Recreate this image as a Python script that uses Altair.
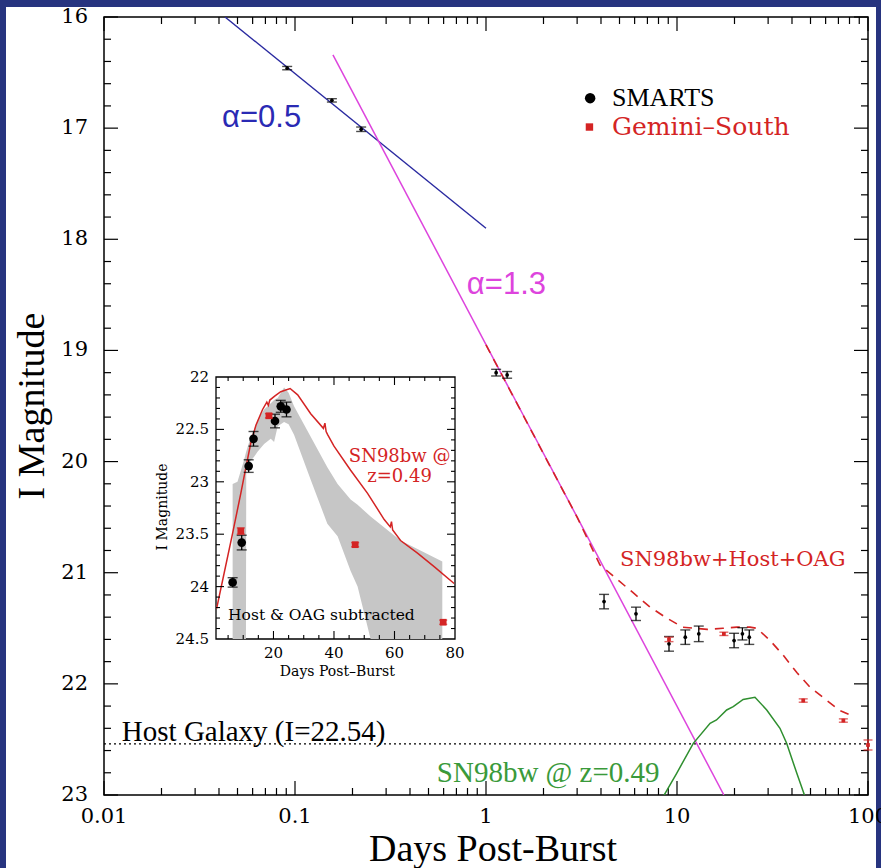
import altair as alt
import pandas as pd

# ---------------- data ----------------
# main panel: SMARTS (black) and Gemini-South (red) photometry
smarts_days = [0.091, 0.156, 0.222, 1.13, 1.29, 4.15, 6.1, 9.08, 11.05, 13.0, 19.9, 22.0, 23.9]
smarts_mag = [16.46, 16.75, 17.01, 19.20, 19.22, 21.26, 21.37, 21.64, 21.58, 21.55, 21.61, 21.55, 21.58]
smarts_err = [0.015, 0.015, 0.02, 0.03, 0.03, 0.065, 0.06, 0.066, 0.065, 0.07, 0.065, 0.055, 0.065]
gemini_days = [9.08, 17.6, 45.8, 74.3, 100.0]
gemini_mag = [21.60, 21.55, 22.15, 22.33, 22.55]
gemini_err = [0.02, 0.015, 0.015, 0.015, 0.045]

# power-law decays
a05_days = [0.043, 1.0]
a05_mag = [16.0, 17.9]
a13_days = [0.158, 17.6]
a13_mag = [16.34, 23.0]

# SN98bw + host + OAG model (dashed red)
model_days = [1.0, 2.0, 3.0, 3.95, 4.86, 5.89, 7.23, 8.87, 10.7, 14.4, 17.4, 20.6, 24.1,
              26.2, 30.7, 35.9, 42.5, 49.7, 61.0, 71.3, 80.5]
model_mag = [18.95, 19.93, 20.5, 20.93, 21.06, 21.18, 21.31, 21.41, 21.49, 21.51, 21.50, 21.49,
             21.49, 21.50, 21.61, 21.74, 21.90, 22.03, 22.15, 22.24, 22.28]

# SN98bw @ z=0.49 (green)
sn_days = [8.47, 9.96, 12.17, 14.9, 16.1, 18.2, 19.7, 22.2, 25.6, 29.5, 34.6, 37.5, 42.4, 46.8]
sn_mag = [23.015, 22.805, 22.535, 22.355, 22.325, 22.235, 22.205, 22.14, 22.12, 22.235,
          22.40, 22.535, 22.805, 23.015]

host_mag = 22.54

# inset: host & OAG subtracted
in_smarts_days = [6.5, 9.5, 11.8, 13.4, 20.5, 22.4, 24.3]
in_smarts_mag = [23.96, 23.58, 22.85, 22.59, 22.42, 22.28, 22.31]
in_smarts_err = [0.045, 0.07, 0.06, 0.07, 0.065, 0.057, 0.07]
in_gemini_days = [9.2, 18.5, 47.0, 76.1]
in_gemini_mag = [23.47, 22.37, 23.60, 24.34]
in_gemini_err = [0.03, 0.02, 0.02, 0.02]

in_sn_days = [1.2, 3.7, 6.5, 9.2, 10.9, 12.5, 14.2, 16.4, 17.8, 18.3, 18.8, 20.5, 22.4, 25.5,
              28.0, 32.3, 36.5, 37.0, 37.4, 37.9, 40.0, 45.5, 51.1, 56.6, 58.6, 59.0, 59.4,
              62.0, 67.6, 73.1, 79.7]
in_sn_mag = [24.21, 23.87, 23.49, 23.11, 22.86, 22.63, 22.46, 22.31, 22.24, 22.27, 22.22, 22.18,
             22.14, 22.11, 22.17, 22.35, 22.49, 22.44, 22.52, 22.55, 22.66, 22.89, 23.11, 23.36,
             23.43, 23.38, 23.46, 23.56, 23.68, 23.81, 23.97]

band_days = [6.5, 8.1, 10.3, 10.9, 11.0, 12.5, 13.6, 14.8, 16.9, 19.1, 20.2, 21.4, 23.5, 25.0,
             26.8, 32.3, 37.8, 41.2, 45.5, 47.8, 52.1, 62.0, 75.8]
band_upper = [23.02, 23.00, 22.79, 22.72, 22.71, 22.57, 22.50, 22.41, 22.31, 22.25, 22.22, 22.20,
              22.10, 22.15, 22.28, 22.57, 22.86, 23.02, 23.17, 23.22, 23.33, 23.56, 23.76]
band_lower = [24.5, 24.5, 24.5, 24.5, 22.89, 22.80, 22.76, 22.71, 22.64, 22.59, 22.62, 22.47,
              22.43, 22.45, 22.55, 22.98, 23.40, 23.52, 23.85, 24.0, 24.5, 24.5, 24.5]

# tick values and labels
x_major = [0.01, 0.1, 1, 10, 100]
x_major_labels = ['0.01', '0.1', '1', '10', '100']
x_minor = [k * 10.0 ** e for e in (-2, -1, 0, 1) for k in range(2, 10)]
y_major = [16, 17, 18, 19, 20, 21, 22, 23]
y_minor = [round(16 + i * 0.2, 1) for i in range(36) if i % 5 != 0]
ix_major = [20, 40, 60]
ix_minor = [5, 10, 15, 25, 30, 35, 45, 50, 55, 65, 70, 75]
ix_labels = [20, 40, 60, 80]
iy_major = [22.5, 23, 23.5, 24]
iy_minor = [round(22 + i * 0.1, 1) for i in range(26) if i % 5 != 0]
iy_labels = [22, 22.5, 23, 23.5, 24, 24.5]

# ---------------- styling ----------------
W, H = 764, 778
NAVY = '#27347f'
RED = '#d42424'
BLUE = '#2a2aa0'
MAGENTA = '#dd44dd'
GREEN = '#2f8f2f'
GREY = '#c6c6c6'

xs = alt.Scale(type='log', domain=[0.01, 100], nice=False)
ys = alt.Scale(domain=[16, 23], reverse=True, nice=False, zero=False)
ixs = alt.Scale(domain=[1, 80], range=[112, 351], nice=False, zero=False)
iys = alt.Scale(domain=[22, 24.5], range=[360, 622], nice=False, zero=False)


def mx(f):
    return alt.X(f, type='quantitative', scale=xs, axis=None)


def my(f):
    return alt.Y(f, type='quantitative', scale=ys, axis=None)


def mxd(v):
    return alt.XDatum(v, type='quantitative', scale=xs, axis=None)


def myd(v):
    return alt.YDatum(v, type='quantitative', scale=ys, axis=None)


def ix(f):
    return alt.X(f, type='quantitative', scale=ixs, axis=None)


def iy(f):
    return alt.Y(f, type='quantitative', scale=iys, axis=None)


def ixd(v):
    return alt.XDatum(v, type='quantitative', scale=ixs, axis=None)


def iyd(v):
    return alt.YDatum(v, type='quantitative', scale=iys, axis=None)


one = pd.DataFrame({'k': [0]})

# white page area inside the navy frame
bg = alt.Chart(one).mark_rect(color='white').encode(
    x=alt.value(-98), x2=alt.value(772), y=alt.value(-10), y2=alt.value(H + 80))

# ---------------- main panel ----------------
frame = alt.Chart(one).mark_rect(fillOpacity=0, stroke='black', strokeWidth=1.5).encode(
    x=mxd(0.01), x2=alt.X2Datum(100), y=myd(16), y2=alt.Y2Datum(23))

x_lab = alt.Chart(pd.DataFrame({'v': x_major, 'lab': x_major_labels})).mark_text(
    font='DejaVu Serif', fontSize=21, color='black', baseline='top', dy=11).encode(
    x=mx('v'), y=myd(23), text='lab:N')
y_lab = alt.Chart(pd.DataFrame({'v': y_major})).mark_text(
    font='DejaVu Serif', fontSize=21, color='black', baseline='middle', align='right', dx=-16).encode(
    x=mxd(0.01), y=my('v'), text=alt.Text('v:Q', format='d'))
x_title = alt.Chart(one).mark_text(
    text='Days Post-Burst', font='Liberation Serif', fontSize=38, color='black',
    baseline='alphabetic', align='center', dy=66).encode(x=mxd(1.088), y=myd(23))
y_title = alt.Chart(one).mark_text(
    text='I Magnitude', font='Liberation Serif', fontSize=38, color='black',
    baseline='middle', align='center', angle=270).encode(x=mxd(0.00425), y=myd(19.5))


def main_xticks(vals, L):
    d = pd.DataFrame({'v': vals})
    bot = alt.Chart(d).mark_rule(color='black', strokeWidth=1.2, y2Offset=-L).encode(
        x=mx('v'), y=myd(23), y2=alt.Y2Datum(23))
    top = alt.Chart(d).mark_rule(color='black', strokeWidth=1.2, y2Offset=L).encode(
        x=mx('v'), y=myd(16), y2=alt.Y2Datum(16))
    return [bot, top]


def main_yticks(vals, L):
    d = pd.DataFrame({'v': vals})
    left = alt.Chart(d).mark_rule(color='black', strokeWidth=1.2, x2Offset=L).encode(
        y=my('v'), x=mxd(0.01), x2=alt.X2Datum(0.01))
    right = alt.Chart(d).mark_rule(color='black', strokeWidth=1.2, x2Offset=-L).encode(
        y=my('v'), x=mxd(100), x2=alt.X2Datum(100))
    return [left, right]


def line(days, mags, color, width=1.5, dash=None):
    d = pd.DataFrame({'t': days, 'm': mags})
    kw = dict(color=color, strokeWidth=width, clip=True)
    if dash:
        kw['strokeDash'] = dash
    return alt.Chart(d).mark_line(**kw).encode(x=mx('t'), y=my('m'))


def errpts(days, mags, errs, color, cap, psize, shape, X, Y):
    d = pd.DataFrame({'t': days, 'm': mags, 'e': errs})
    d['lo'] = d['m'] - d['e']
    d['hi'] = d['m'] + d['e']
    r = alt.Chart(d).mark_rule(color=color, strokeWidth=1.3).encode(x=X('t'), y=Y('lo'), y2=alt.Y2('hi'))
    c1 = alt.Chart(d).mark_tick(orient='horizontal', size=cap, thickness=1.4, color=color).encode(
        x=X('t'), y=Y('lo'))
    c2 = alt.Chart(d).mark_tick(orient='horizontal', size=cap, thickness=1.4, color=color).encode(
        x=X('t'), y=Y('hi'))
    p = alt.Chart(d).mark_point(filled=True, shape=shape, size=psize, color=color, opacity=1).encode(
        x=X('t'), y=Y('m'))
    return [r, c1, c2, p]


def mtext(txt, xv, yv, color, font, size, align='left', style=None):
    kw = dict(text=txt, color=color, font=font, fontSize=size, align=align, baseline='middle')
    if style:
        kw['fontStyle'] = style
    return alt.Chart(one).mark_text(**kw).encode(x=mxd(xv), y=myd(yv))


host_line = alt.Chart(one).mark_rule(color='black', strokeWidth=1.4, strokeDash=[2, 3]).encode(
    x=mxd(0.01), x2=alt.X2Datum(100), y=myd(host_mag))

legend_dot = alt.Chart(one).mark_point(filled=True, shape='circle', size=110, color='black',
                                       opacity=1).encode(x=mxd(3.51), y=myd(16.73))
legend_sq = alt.Chart(one).mark_point(filled=True, shape='square', size=55, color=RED,
                                      opacity=1).encode(x=mxd(3.48), y=myd(16.99))

main_layers = [frame, x_lab, y_lab, x_title, y_title]
main_layers += main_xticks(x_major, 14) + main_xticks(x_minor, 7)
main_layers += main_yticks(y_major, 14) + main_yticks(y_minor, 7)
main_layers += [
    host_line,
    line(a05_days, a05_mag, BLUE, 1.4),
    line(a13_days, a13_mag, MAGENTA, 1.5),
    line(sn_days, sn_mag, GREEN, 1.5),
    line(model_days, model_mag, RED, 1.6, [9, 7]),
]
main_layers += errpts(smarts_days, smarts_mag, smarts_err, 'black', 10, 14, 'circle', mx, my)
main_layers += errpts(gemini_days, gemini_mag, gemini_err, RED, 9, 14, 'square', mx, my)
main_layers += [
    legend_dot, legend_sq,
    mtext('SMARTS', 4.57, 16.73, 'black', 'Liberation Serif', 26),
    mtext('Gemini\u2013South', 4.57, 16.99, RED, 'DejaVu Serif', 25),
    mtext('\u03b1=0.5', 0.0415, 16.91, '#2a2ab4', 'Liberation Sans', 31),
    mtext('\u03b1=1.3', 0.794, 18.41, MAGENTA, 'Liberation Sans', 31),
    mtext('SN98bw+Host+OAG', 5.03, 20.89, RED, 'DejaVu Serif', 21),
    mtext('SN98bw @ z=0.49', 0.553, 22.80, '#3a9a3a', 'Liberation Serif', 29),
    mtext('Host Galaxy (I=22.54)', 0.0124, 22.43, 'black', 'Liberation Serif', 29),
]
main = alt.layer(*main_layers)

# ---------------- inset ----------------
inset_frame = alt.Chart(one).mark_rect(fill='white', stroke='black', strokeWidth=1.3).encode(
    x=ixd(1), x2=alt.X2Datum(80), y=iyd(22), y2=alt.Y2Datum(24.5))

band = alt.Chart(pd.DataFrame({'d': band_days, 'u': band_upper, 'l': band_lower})).mark_area(
    color=GREY, opacity=1).encode(x=ix('d'), y=iy('u'), y2=alt.Y2('l'))

in_line = alt.Chart(pd.DataFrame({'d': in_sn_days, 'm': in_sn_mag})).mark_line(
    color=RED, strokeWidth=1.5).encode(x=ix('d'), y=iy('m'))


def in_xticks(vals, L):
    d = pd.DataFrame({'v': vals})
    bot = alt.Chart(d).mark_rule(color='black', strokeWidth=1.1, y2Offset=-L).encode(
        x=ix('v'), y=iyd(24.5), y2=alt.Y2Datum(24.5))
    top = alt.Chart(d).mark_rule(color='black', strokeWidth=1.1, y2Offset=L).encode(
        x=ix('v'), y=iyd(22), y2=alt.Y2Datum(22))
    return [bot, top]


def in_yticks(vals, L):
    d = pd.DataFrame({'v': vals})
    left = alt.Chart(d).mark_rule(color='black', strokeWidth=1.1, x2Offset=L).encode(
        y=iy('v'), x=ixd(1), x2=alt.X2Datum(1))
    right = alt.Chart(d).mark_rule(color='black', strokeWidth=1.1, x2Offset=-L).encode(
        y=iy('v'), x=ixd(80), x2=alt.X2Datum(80))
    return [left, right]


in_xlab = alt.Chart(pd.DataFrame({'v': ix_labels})).mark_text(
    font='DejaVu Serif', fontSize=15, color='black', baseline='middle', dy=14).encode(
    x=ix('v'), y=iyd(24.5), text=alt.Text('v:Q', format='d'))
in_ylab = alt.Chart(pd.DataFrame({'v': iy_labels})).mark_text(
    font='DejaVu Serif', fontSize=15, color='black', baseline='middle', align='right', dx=-7).encode(
    x=ixd(1), y=iy('v'), text=alt.Text('v:Q', format='~g'))


def itext(txt, xv, yv, color, font, size, align='left', **kw):
    return alt.Chart(one).mark_text(text=txt, color=color, font=font, fontSize=size, align=align,
                                    baseline='middle', **kw).encode(x=ixd(xv), y=iyd(yv))


inset_layers = [inset_frame, band, in_line]
inset_layers += in_xticks(ix_major, 8) + in_xticks(ix_minor, 4)
inset_layers += in_yticks(iy_major, 8) + in_yticks(iy_minor, 4)
inset_layers += errpts(in_smarts_days, in_smarts_mag, in_smarts_err, 'black', 10, 75, 'circle', ix, iy)
inset_layers += errpts(in_gemini_days, in_gemini_mag, in_gemini_err, RED, 8, 45, 'square', ix, iy)
inset_layers += [
    in_xlab, in_ylab,
    itext('SN98bw @', 61.7, 22.76, RED, 'DejaVu Serif', 18, align='center'),
    itext('z=0.49', 61.7, 22.95, RED, 'DejaVu Serif', 18, align='center'),
    itext('Host & OAG subtracted', 5.0, 24.27, 'black', 'DejaVu Serif', 15.5),
    itext('Days Post\u2013Burst', 41.1, 24.5, 'black', 'DejaVu Serif', 14, align='center', dy=33),
    itext('I Magnitude', -16.4, 23.24, 'black', 'DejaVu Serif', 14, align='center', angle=270),
]
inset = alt.layer(*inset_layers)

chart = alt.layer(bg, main, inset).resolve_scale(x='independent', y='independent').properties(
    width=W, height=H,
    autosize=alt.AutoSizeParams(type='none'),
    padding={'left': 104, 'top': 17, 'right': 13, 'bottom': 73},
    background=NAVY,
).configure_view(strokeWidth=0)

chart.save('out.html', embed_options={'renderer': 'svg', 'actions': False})
